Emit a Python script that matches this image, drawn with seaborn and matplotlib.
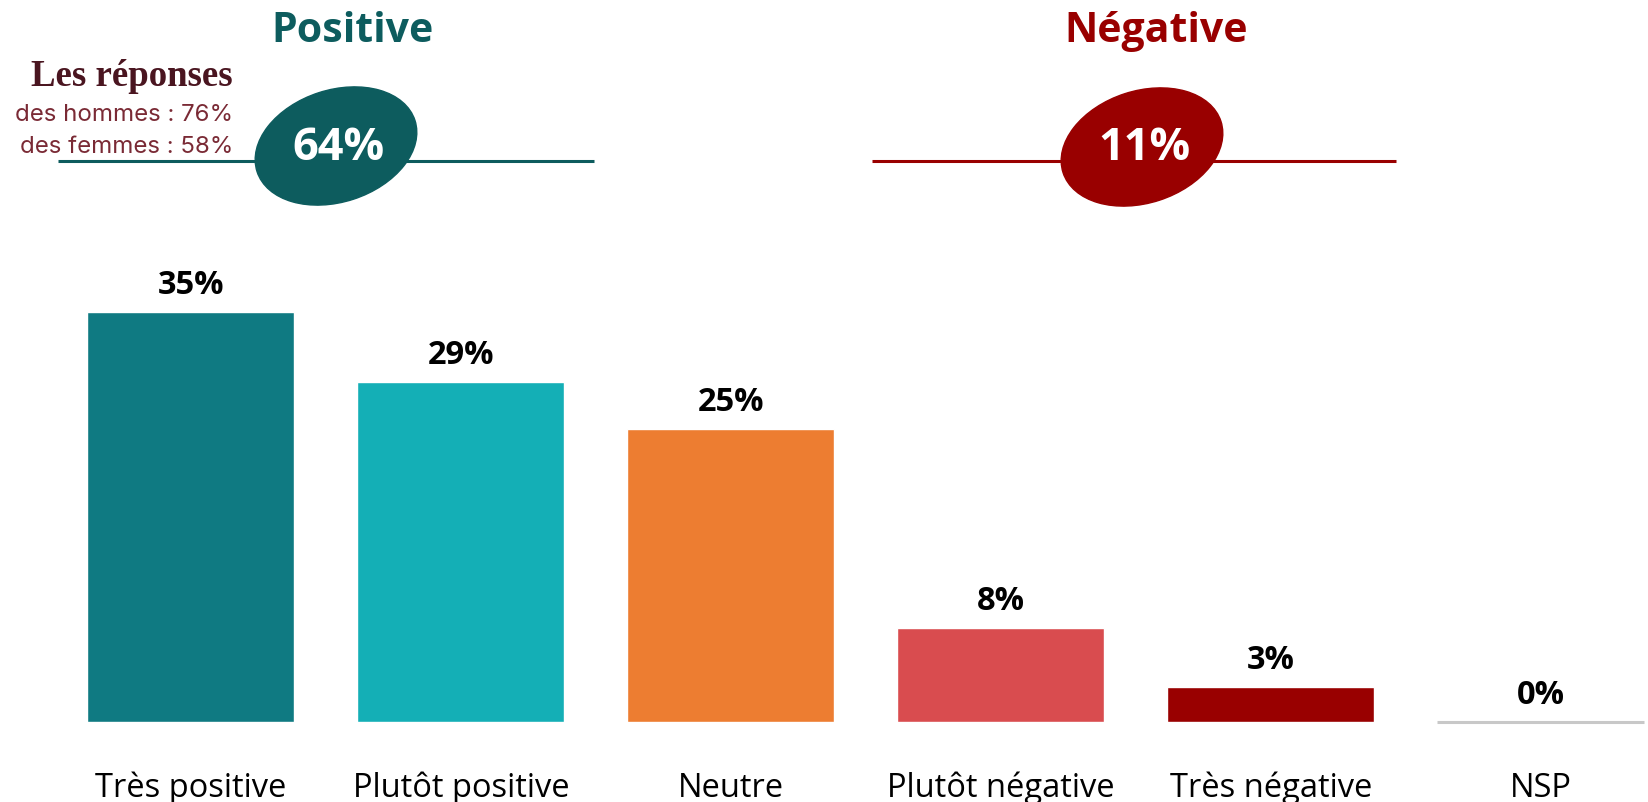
import matplotlib
matplotlib.use("Agg")
import matplotlib.pyplot as plt
from matplotlib.patches import Ellipse
import seaborn as sns
import pandas as pd

# ---- data ----
categories = ["Très positive", "Plutôt positive", "Neutre", "Plutôt négative", "Très négative", "NSP"]
values = [35, 29, 25, 8, 3, 0]
bar_colors = ["#0f7a82", "#14afb6", "#ed7d31", "#d94c4f", "#990000", "#c8c8c8"]
group_titles = ["Positive", "Négative"]
group_totals = ["64%", "11%"]
group_colors = ["#0d5c5e", "#990000"]
note_title = "Les réponses"
note_lines = ["des hommes : 76%", "des femmes : 58%"]

df = pd.DataFrame({"cat": categories, "val": values})

sns.set_theme(style="white")
plt.rcParams["font.family"] = ["Open Sans", "DejaVu Sans"]

W, H = 1648, 803
fig = plt.figure(figsize=(W / 100, H / 100), dpi=100)
base_px = 80
ytop = 40
px_per_unit = 11.71
ax = fig.add_axes([0, base_px / H, 1, ytop * px_per_unit / H])

sns.barplot(data=df, x="cat", y="val", hue="cat", palette=bar_colors,
            order=categories, hue_order=categories, legend=False,
            width=0.767, saturation=1, ax=ax)
ax.set_xlim(-0.707, 5.397)
ax.set_ylim(0, ytop)

# zero-height NSP bar drawn as a grey line
for p in ax.patches:
    if p.get_height() == 0:
        p.set_edgecolor(bar_colors[-1])
        p.set_linewidth(2.2)
        p.set_clip_on(False)

for cont in ax.containers:
    ax.bar_label(cont, labels=[f"{v:.0f}%" for v in cont.datavalues],
                 padding=8, fontsize=23.5, fontweight="bold", color="black")

ax.set_xlabel("")
ax.set_ylabel("")
ax.set_yticks([])
ax.tick_params(axis="x", length=0, pad=35, labelsize=23.5, labelcolor="black")
for s in ax.spines.values():
    s.set_visible(False)
ax.patch.set_alpha(0)

# ---- overlay for header decorations (pixel coords) ----
ov = fig.add_axes([0, 0, 1, 1], zorder=5)
ov.set_xlim(0, W)
ov.set_ylim(H, 0)
ov.axis("off")
ov.patch.set_alpha(0)

line_spans = [(58, 594), (872, 1396)]
ell_centers = [(336, 147), (1142, 148)]
title_x = [353, 1156]
for i in range(2):
    c = group_colors[i]
    ov.plot(line_spans[i], [162, 162], color=c, lw=2.2, solid_capstyle="butt")
    ov.add_patch(Ellipse(ell_centers[i], 166, 112, angle=-18, color=c, zorder=3))
    ov.text(ell_centers[i][0] + 2, ell_centers[i][1] + 1, group_totals[i], color="white",
            fontsize=32.5, fontweight="bold", ha="center", va="center", zorder=4)
    ov.text(title_x[i], 32, group_titles[i], color=c, fontsize=29.5,
            fontweight="bold", ha="center", va="center")

ov.text(233, 77, note_title, family="Liberation Serif", fontweight="bold",
        fontsize=26.5, color="#4a1520", ha="right", va="center")
ov.text(233, 115, note_lines[0], family="Inter", fontsize=17.3, color="#7a2a35",
        ha="right", va="center")
ov.text(233, 147, note_lines[1], family="Inter", fontsize=17.3, color="#7a2a35",
        ha="right", va="center", zorder=6)

fig.savefig("out.png", dpi=100)
